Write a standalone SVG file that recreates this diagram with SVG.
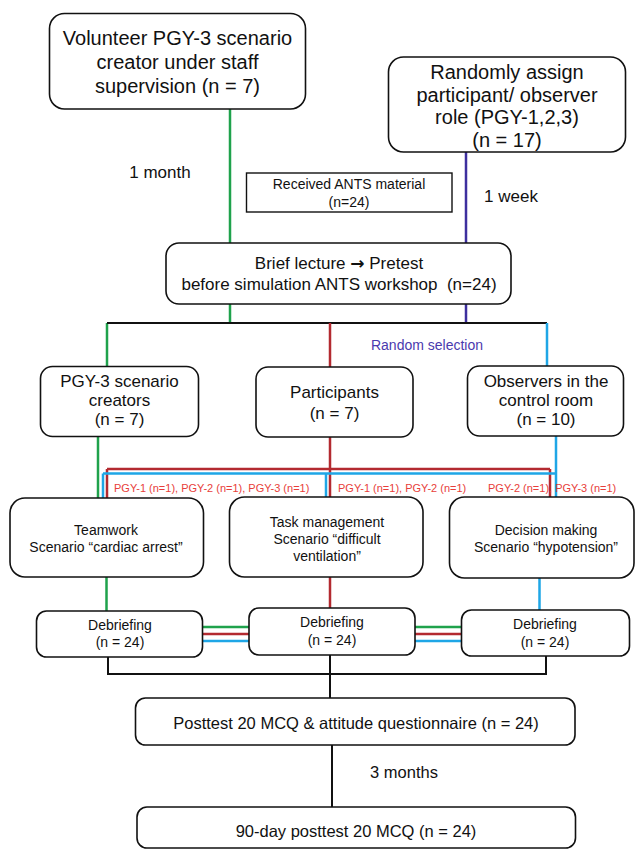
<svg xmlns="http://www.w3.org/2000/svg" width="635" height="851" viewBox="0 0 635 851">
<style>
text{font-family:"Liberation Sans",Arial,sans-serif;fill:#111;text-anchor:middle}
.box{fill:#fff;stroke:#111;stroke-width:1.6}
.sq{fill:#fff;stroke:#111;stroke-width:1.4}
.c{fill:none;stroke-width:2.5}
.k{stroke:#111;stroke-width:2}
.g{stroke:#1fa24c}
.p{stroke:#3d2f9e}
.r{stroke:#b32a30}
.b{stroke:#1fa6e6}
.f20{font-size:20px}
.f17{font-size:17px}
.f16{font-size:16.5px}
.f14{font-size:14px}
.red{font-size:11px;fill:#e83e3a;text-anchor:start}
.pur{font-size:14px;fill:#4a3aae}
.arr{font-family:"DejaVu Sans",sans-serif;font-weight:bold}
</style>
<rect width="635" height="851" fill="#fff"/>
<g id="connectors">
  <path class="c g" d="M230 109V243M230 304V323M107 323V367M98 436V498M106.5 577V611"/>
  <path class="c p" d="M466 152V243M466 304V323"/>
  <path class="c k" d="M107 323H547"/>
  <path class="c r" d="M330 323V367M330 436V497M107 469H550M107 469V498M550 469V498M330 577V608"/>
  <path class="c b" d="M547 323V366M556 436V497M103 473.5H556M103 473.5V498M326 473.5V497M539.5 578V610"/>
  <path class="c g" d="M202 627H249M415 627H461"/>
  <path class="c r" d="M202 634H249M415 634H461"/>
  <path class="c b" d="M202 641H249M415 641H461"/>
  <path class="c k" d="M108 657V674H546V656M330 655V698M332 745V807"/>
</g>
<g id="labels">
  <text class="f17" x="160" y="178">1 month</text>
  <text class="f17" x="511" y="202">1 week</text>
  <text class="pur" x="427" y="350">Random selection</text>
  <text class="red" x="114" y="492">PGY-1 (n=1), PGY-2 (n=1), PGY-3 (n=1)</text>
  <text class="red" x="338" y="492">PGY-1 (n=1), PGY-2 (n=1)</text>
  <text class="red" x="488" y="492">PGY-2 (n=1), PGY-3 (n=1)</text>
  <text class="f16" x="404" y="778">3 months</text>
</g>
<g id="volunteer">
  <rect class="box" x="49.5" y="13.5" width="256" height="95.5" rx="15"/>
  <text class="f20" x="177.5" y="45">Volunteer PGY-3 scenario</text>
  <text class="f20" x="177.5" y="69">creator under staff</text>
  <text class="f20" x="177.5" y="93">supervision (n = 7)</text>
</g>
<g id="randomly">
  <rect class="box" x="388.5" y="57" width="237" height="95" rx="15"/>
  <text class="f20" x="507" y="79">Randomly assign</text>
  <text class="f20" x="507" y="101.5">participant/ observer</text>
  <text class="f20" x="507" y="124">role (PGY-1,2,3)</text>
  <text class="f20" x="507" y="146.5">(n = 17)</text>
</g>
<g id="received">
  <rect class="sq" x="246.5" y="173" width="205.5" height="39"/>
  <text class="f14" x="349" y="189">Received ANTS material</text>
  <text class="f14" x="349" y="207">(n=24)</text>
</g>
<g id="brief">
  <rect class="box" x="166" y="243" width="345" height="61" rx="13"/>
  <text class="f17" x="339" y="269">Brief lecture <tspan class="arr">→</tspan> Pretest</text>
  <text class="f17" x="339" y="290" style="white-space:pre">before simulation ANTS workshop  (n=24)</text>
</g>
<g id="creators">
  <rect class="box" x="40.5" y="366.5" width="158" height="70" rx="12"/>
  <text class="f17" x="119.5" y="387">PGY-3 scenario</text>
  <text class="f17" x="119.5" y="406">creators</text>
  <text class="f17" x="119.5" y="425">(n = 7)</text>
</g>
<g id="participants">
  <rect class="box" x="256" y="367" width="157" height="70" rx="12"/>
  <text class="f17" x="334.5" y="398">Participants</text>
  <text class="f17" x="334.5" y="419">(n = 7)</text>
</g>
<g id="observers">
  <rect class="box" x="467.5" y="366" width="156" height="70" rx="12"/>
  <text class="f17" x="546" y="387">Observers in the</text>
  <text class="f17" x="546" y="406">control room</text>
  <text class="f17" x="546" y="425">(n = 10)</text>
</g>
<g id="teamwork">
  <rect class="box" x="10" y="498" width="193.5" height="79" rx="15"/>
  <text class="f14" x="106" y="535">Teamwork</text>
  <text class="f14" x="106" y="552">Scenario “cardiac arrest”</text>
</g>
<g id="task">
  <rect class="box" x="229.5" y="497" width="193.5" height="80" rx="15"/>
  <text class="f14" x="327" y="526.5">Task management</text>
  <text class="f14" x="327" y="543.5">Scenario “difficult</text>
  <text class="f14" x="327" y="560.5">ventilation”</text>
</g>
<g id="decision">
  <rect class="box" x="449.5" y="497" width="184.5" height="81" rx="15"/>
  <text class="f14" x="546" y="535">Decision making</text>
  <text class="f14" x="546" y="552">Scenario “hypotension”</text>
</g>
<g id="debrief1">
  <rect class="box" x="36.5" y="611" width="166" height="46" rx="10"/>
  <text class="f14" x="120" y="630">Debriefing</text>
  <text class="f14" x="120" y="647">(n = 24)</text>
</g>
<g id="debrief2">
  <rect class="box" x="249" y="608" width="166" height="47" rx="10"/>
  <text class="f14" x="332" y="627">Debriefing</text>
  <text class="f14" x="332" y="645">(n = 24)</text>
</g>
<g id="debrief3">
  <rect class="box" x="461.5" y="610" width="168" height="46" rx="10"/>
  <text class="f14" x="545" y="629">Debriefing</text>
  <text class="f14" x="545" y="647">(n = 24)</text>
</g>
<g id="posttest">
  <rect class="box" x="135.5" y="698" width="439.5" height="47" rx="10"/>
  <text class="f16" x="356" y="729">Posttest 20 MCQ &amp; attitude questionnaire (n = 24)</text>
</g>
<g id="posttest90">
  <rect class="box" x="137" y="807" width="438.5" height="41" rx="10"/>
  <text class="f16" x="356" y="837">90-day posttest 20 MCQ (n = 24)</text>
</g>
</svg>
